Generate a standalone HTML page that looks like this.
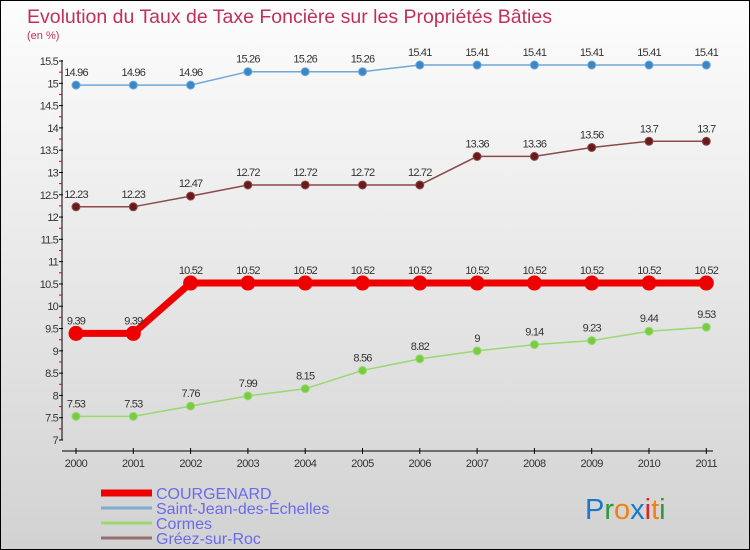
<!DOCTYPE html>
<html><head><meta charset="utf-8"><style>
html,body{margin:0;padding:0}
body{width:750px;height:550px;overflow:hidden;font-family:"Liberation Sans",sans-serif}
#wrap{position:relative;width:748px;height:548px;border:1px solid #000;background:linear-gradient(#fdfdfd,#d2d2d2)}
</style></head><body>
<div id="wrap">
<svg id="chart" width="748" height="548" style="position:absolute;left:0;top:0">
<text x="26" y="22" font-size="19.5" fill="#c0305a">Evolution du Taux de Taxe Foncière sur les Propriétés Bâties</text>
<text x="26" y="38" font-size="11" fill="#c0305a">(en %)</text>
<g id="axes"></g><g id="series"></g><g id="legend"></g>
<text x="584" y="518" font-size="29"><tspan fill="#1a78c8">P</tspan><tspan fill="#2a9a3a">r</tspan><tspan fill="#f08010">o</tspan><tspan fill="#1a78c8">x</tspan><tspan fill="#e02020">i</tspan><tspan fill="#f08010">t</tspan><tspan fill="#2a9a3a">i</tspan></text>
</svg>
</div>
<script>
const years=[2000,2001,2002,2003,2004,2005,2006,2007,2008,2009,2010,2011];
const courgenard=[9.39,9.39,10.52,10.52,10.52,10.52,10.52,10.52,10.52,10.52,10.52,10.52];
const saintJean=[14.96,14.96,14.96,15.26,15.26,15.26,15.41,15.41,15.41,15.41,15.41,15.41];
const cormes=[7.53,7.53,7.76,7.99,8.15,8.56,8.82,9,9.14,9.23,9.44,9.53];
const greez=[12.23,12.23,12.47,12.72,12.72,12.72,12.72,13.36,13.36,13.56,13.7,13.7];
const yTicks=[7,7.5,8,8.5,9,9.5,10,10.5,11,11.5,12,12.5,13,13.5,14,14.5,15,15.5];
const NS='http://www.w3.org/2000/svg';
function x(i){return 75+i*57.3;}
function y(v){return 439-(v-7)/8.5*379;}
function mk(tag,attrs,parent,txt){const e=document.createElementNS(NS,tag);for(const k in attrs)e.setAttribute(k,attrs[k]);if(txt!==undefined)e.textContent=txt;parent.appendChild(e);return e;}
const ax=document.getElementById('axes');
const yl=mk('line',{x1:61,y1:59,x2:61,y2:439,stroke:'#000'},ax);


yTicks.forEach(v=>{
  mk('line',{x1:58,y1:y(v),x2:62,y2:y(v),stroke:'#000'},ax);
  if(v<15.5) mk('line',{x1:58,y1:y(v+0.25),x2:61,y2:y(v+0.25),stroke:'#e00000'},ax);
  const t=mk('text',{x:57,y:y(v)+4,'font-size':11,'text-anchor':'end',fill:'#333','letter-spacing':'-0.8'},ax,String(v));
  
  
});
const xl=mk('line',{x1:61,y1:450,x2:712,y2:450,stroke:'#000'},ax);


years.forEach((yr,i)=>{
  mk('line',{x1:x(i),y1:447,x2:x(i),y2:453,stroke:'#000'},ax);
  const t=mk('text',{x:x(i),y:466,'font-size':11,'text-anchor':'middle',fill:'#333','letter-spacing':'-0.5'},ax,String(yr));
  
  
});
const sg=document.getElementById('series');
function draw(vals,color,fill,w,r,name){
  const g=mk('g',{},sg);
  
  
  const pl=mk('polyline',{points:vals.map((v,i)=>x(i)+','+y(v)).join(' '),fill:'none',stroke:color,'stroke-width':w},g);
  
  
  vals.forEach((v,i)=>{
    const c=mk('circle',{cx:x(i),cy:y(v),r:r,fill:fill,stroke:color,'stroke-width':1},g);
    
    
    const t=mk('text',{x:x(i),y:y(v)-9,'font-size':11,'text-anchor':'middle',fill:'#333','letter-spacing':'-0.8'},g,String(v));
    
    
  });
}
draw(saintJean,'#6fa8d8','#3a87c8',1.5,4,'saint-jean');
draw(greez,'#8a4a4a','#6a1a1a',1.5,4,'greez');
draw(cormes,'#9ad870','#78cc40',1.5,4,'cormes');
draw(courgenard,'#ee0000','#ee0000',7,7,'courgenard');
const lg=document.getElementById('legend');
const items=[['COURGENARD','#ee0000',7],['Saint-Jean-des-Échelles','#80acd0',3],['Cormes','#9ad870',3],['Gréez-sur-Roc','#957070',3]];
items.forEach((it,i)=>{
  const yy=492+i*15;
  const l=mk('line',{x1:100,y1:yy,x2:151,y2:yy,stroke:it[1],'stroke-width':it[2]},lg);
  
  
  const t=mk('text',{x:155,y:yy+6,'font-size':16,fill:'#6a6aee'},lg,it[0]);
  
  
});
</script>
</body></html>
